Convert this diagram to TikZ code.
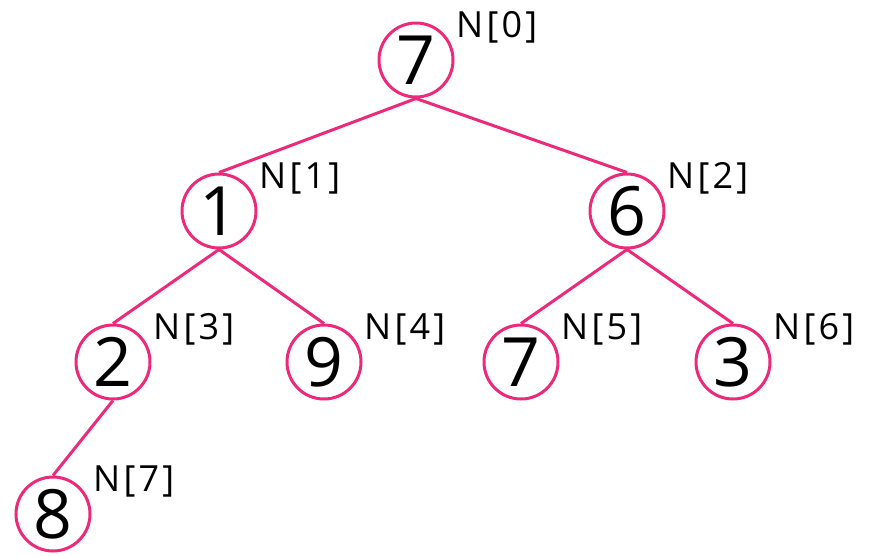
\documentclass[tikz,border=0pt]{standalone}
\usepackage{fontspec}
\setmainfont{Open Sans}
\newfontfamily\idxfont[LetterSpace=9]{Open Sans}
\definecolor{heappink}{HTML}{EC2A7B}
\begin{document}
\begin{tikzpicture}[x=1pt,y=-1pt,
  heapnode/.style={circle,draw=heappink,line width=3pt,minimum size=74pt,inner sep=0pt,
    font=\fontsize{68}{68}\selectfont},
  idx/.style={anchor=base west,inner sep=0pt,font=\idxfont\fontsize{36}{36}\selectfont},
  link/.style={draw=heappink,line width=3pt}]
\useasboundingbox (0,0) rectangle (872,555);
% tree nodes
\node[heapnode] (n0) at (416,60)  {7};
\node[heapnode] (n1) at (219,211) {1};
\node[heapnode] (n2) at (627,211) {6};
\node[heapnode] (n3) at (113,362) {2};
\node[heapnode] (n4) at (324,362) {9};
\node[heapnode] (n5) at (521,362) {7};
\node[heapnode] (n6) at (733,362) {3};
\node[heapnode] (n7) at (53,514)  {8};
% array index labels
\foreach \i in {0,...,7}{
  \node[idx] (l\i) at ([xshift=40pt,yshift=23pt]n\i.center) {N[\i]};
}
% parent-child links
\draw[link] (n0.south) -- (n1.north);
\draw[link] (n0.south) -- (n2.north);
\draw[link] (n1.south) -- (n3.north);
\draw[link] (n1.south) -- (n4.north);
\draw[link] (n2.south) -- (n5.north);
\draw[link] (n2.south) -- (n6.north);
\draw[link] (n3.south) -- (n7.north);
\end{tikzpicture}
\end{document}
